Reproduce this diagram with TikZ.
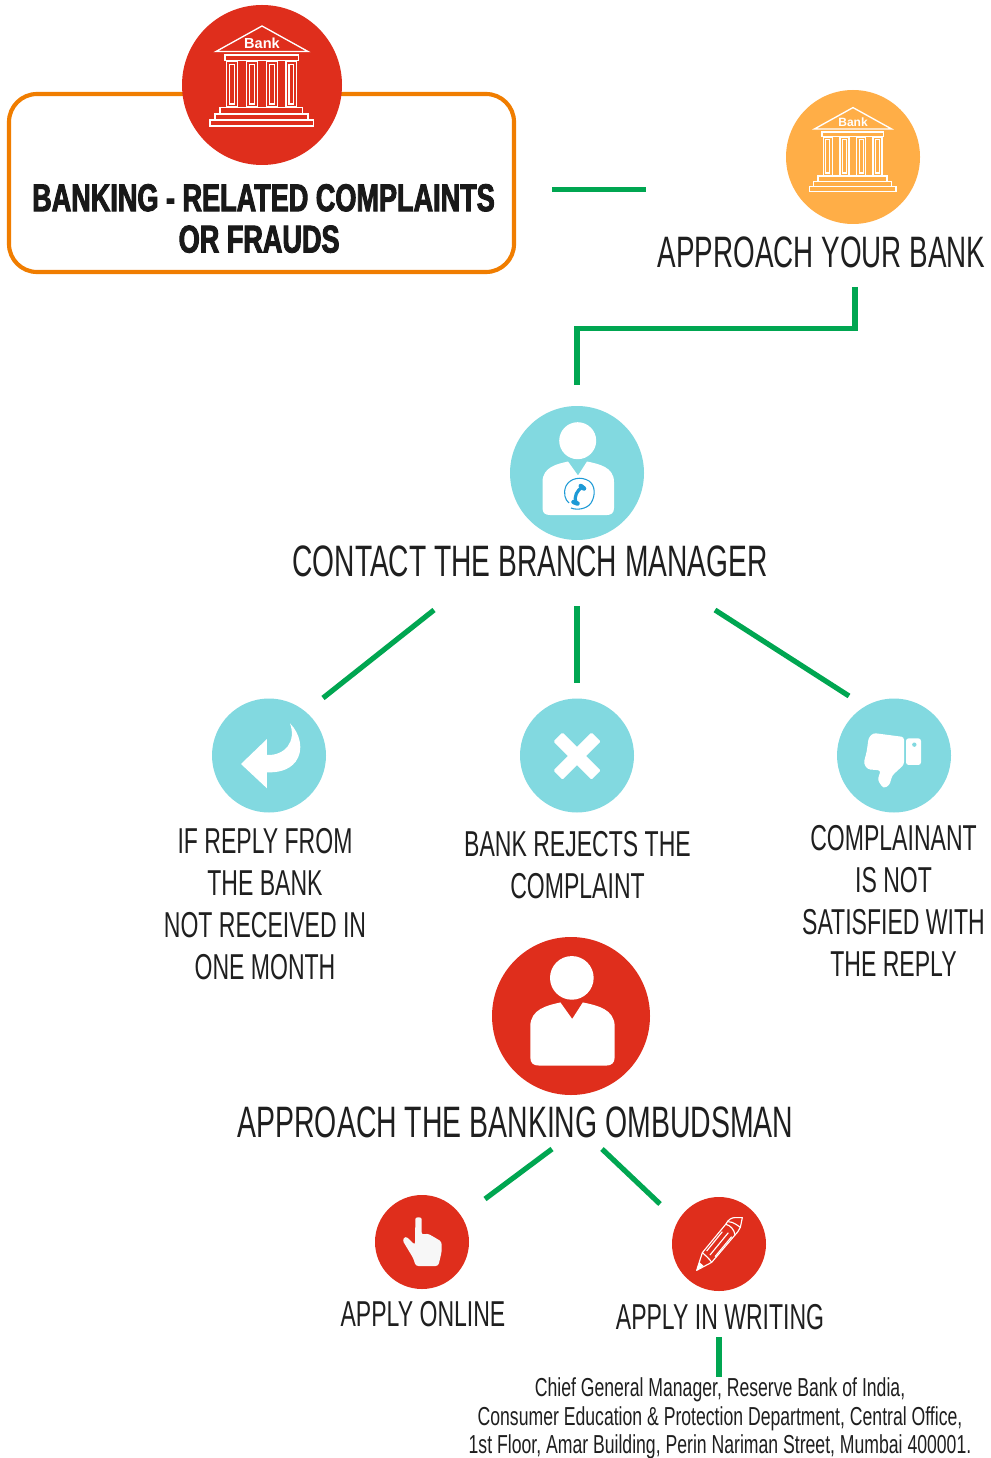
\documentclass[tikz,border=0pt]{standalone}
\usepackage{fontspec}
\setmainfont{Liberation Sans}
\newfontfamily\cond[FakeStretch=.632]{Liberation Sans}
\newfontfamily\condw[FakeStretch=.646]{Liberation Sans}
\newfontfamily\condm[FakeStretch=.64]{Liberation Sans}
\newfontfamily\conda[FakeStretch=.678]{Liberation Sans}
\newfontfamily\condb[FakeStretch=.70,FakeBold=2.4]{Liberation Sans Bold}
\definecolor{cred}{HTML}{DF2E1C}
\definecolor{corange}{HTML}{F07D00}
\definecolor{cyellow}{HTML}{FFAE47}
\definecolor{cteal}{HTML}{82D9E0}
\definecolor{cgreen}{HTML}{00A651}
\definecolor{cblue}{HTML}{1D9AD6}
\tikzset{
 disc/.style={circle,inner sep=0pt,minimum size=#1*1.5pt},
 link/.style={draw=cgreen,line width=3.9pt},
 biglabel/.style={inner sep=0pt,text=black!88,font=\cond\fontsize{33}{33}\selectfont},
 bigmid/.style={inner sep=0pt,text=black!88,font=\condm\fontsize{33}{33}\selectfont},
 bigwide/.style={inner sep=0pt,text=black!88,font=\condw\fontsize{33}{33}\selectfont},
 midlabel/.style={inner sep=0pt,text=black!88,align=center,font=\condm\fontsize{27}{31.5}\selectfont},
 addr/.style={inner sep=0pt,text=black!88,align=center,font=\conda\fontsize{19.5}{21.4}\selectfont},
 headlabel/.style={inner sep=0pt,text=black!90,align=center,font=\condb\fontsize{29}{31}\selectfont},
 iconline/.style={draw=white,line width=#1},
}
% bank icon, local coordinates relative to the circle centre
\newcommand{\bankicon}[3]{%
 \begin{scope}[shift={#1},scale=#2,iconline=1.0pt,fill=none]
  \draw (-46,-33.5) -- (0,-59) -- (46,-33.5) -- cycle;
  \draw (-37,-30) rectangle (36.5,-24.5);
  \foreach \a in {-35.5,-15.5,4.5,24}{%
   \draw (\a,-23.5) rectangle ++(10.8,45.5);
   \draw (\a+3,-20.5) rectangle ++(4.8,39.5);
  }
  \draw (-42,22.5) rectangle (40.5,29);
  \draw (-47,29) rectangle (46,35);
  \draw (-52,35) rectangle (51.5,41);
  \node[text=white,inner sep=0pt,font=\bfseries\fontsize{#3}{#3}\selectfont] at (0,-42) {Bank};
 \end{scope}}
% person icon, local coordinates relative to the circle centre
\newcommand{\personicon}[3]{%
 \begin{scope}[shift={#1},scale=#2]
  \fill[white] (0.7,-32.3) circle (18.5);
  \fill[white] (-9,-11.5) -- (1,2.5) -- (10,-11.5)
    .. controls (22,-9) and (37,-6) .. (37,9) -- (37,35)
    .. controls (37,40) and (34,42) .. (30,42) -- (-27,42)
    .. controls (-32,42) and (-34.5,40) .. (-34.5,35) -- (-34.5,9)
    .. controls (-34.5,-6) and (-20,-9) .. cycle;
  #3
 \end{scope}}
\begin{document}
\begin{tikzpicture}[x=.75pt,y=-.75pt]
\useasboundingbox (0,0) rectangle (990,1458);
\fill[white] (0,0) rectangle (990,1458);

% outlined heading box
\node[draw=corange,line width=3.1pt,rounded corners=21pt,minimum width=505*.75pt,minimum height=178*.75pt,inner sep=0pt] (box) at (261.5,183) {};
\node[headlabel] (head) at (263.5,218.5) {BANKING - RELATED COMPLAINTS\\OR FRAUDS\hspace*{6.5pt}};

% circles
\node[disc=80,fill=cred] (bankred) at (262,85) {};
\node[disc=67,fill=cyellow] (bankyel) at (853,157) {};
\node[disc=67,fill=cteal] (manager) at (577,473) {};
\node[disc=57,fill=cteal] (ret) at (269,755.5) {};
\node[disc=57,fill=cteal] (rej) at (577,755.5) {};
\node[disc=57,fill=cteal] (thumb) at (894,755.5) {};
\node[disc=79,fill=cred] (omb) at (571,1016) {};
\node[disc=47,fill=cred] (online) at (422,1242) {};
\node[disc=47,fill=cred] (write) at (719,1244) {};

% icons
\bankicon{(262,85)}{1}{10.9}
\bankicon{(853,157)}{.8375}{9}
\personicon{(577,473)}{1}{%
  \draw[cblue,line width=.8pt] (-6,35) .. controls (0,37.5) and (10,36) .. (14,30) .. controls (19,22) and (18,12) .. (12,8) .. controls (4,3) and (-7,5) .. (-11,13) .. controls (-14,20) and (-12,27) .. (-8,30);
  \draw[cblue,line width=2.4pt] (5.5,14) .. controls (0,17) and (-3.5,24) .. (-1,30);
  \draw[cblue,line width=3.4pt,line cap=round] (3.8,13) -- (7,15.5);
  \draw[cblue,line width=3.4pt,line cap=round] (-3.5,29) -- (0.5,30.5);
}
\personicon{(571,1016)}{1.18}{}

% return arrow
\begin{scope}[shift={(205,695)},scale=.3333]
 \fill[white] (108,207) -- (186,132) -- (186,180) .. controls (240,182) and (275,140) .. (255,85)
   .. controls (285,115) and (298,165) .. (272,200) .. controls (250,228) and (215,233) .. (186,232) -- (186,280) -- cycle;
\end{scope}
% cross
\begin{scope}[shift={(577,756)},rotate=45]
 \fill[white,rounded corners=1pt] (-6.5,-27) rectangle (6.5,27);
 \fill[white,rounded corners=1pt] (-27,-6.5) rectangle (27,6.5);
\end{scope}
% thumb down
\begin{scope}[shift={(830,695)},scale=.3333]
 \fill[white,rounded corners=2pt] (222,126) -- (130,114) -- (116,128) -- (110,170) -- (101,205) -- (113,223) -- (152,226)
   -- (143,255) -- (160,280) -- (178,271) -- (187,241) -- (222,209) -- cycle;
 \fill[white,rounded corners=2pt] (228,130) rectangle (273,210);
 \fill[cteal] (253,149) circle (6.5);
\end{scope}
% hand
\begin{scope}[shift={(370,1190)},scale=.3333]
 \fill[white!97!black,rounded corners=2pt] (136,95) .. controls (136,80) and (155,80) .. (155,95) -- (155,135) -- (172,130) -- (190,140) -- (215,155)
   -- (215,185) -- (205,228) -- (137,228) -- (130,205) -- (97,150) -- (107,138) -- (135,165) -- cycle;
\end{scope}
% pencil
\begin{scope}[shift={(665,1190)},scale=.3333,draw=white,line width=.85pt]
 \draw[line join=round] (95,241) -- (112,188) -- (182,103) .. controls (190,88) and (200,83) .. (208,83) -- (232,83) -- (226,112) .. controls (222,122) and (215,130) .. (210,135) -- (140,217) -- cycle;
 \draw (182,103) .. controls (195,105) and (208,118) .. (210,135);
 \draw (190,95) .. controls (205,95) and (220,108) .. (226,112);
 \draw (112,188) .. controls (120,195) and (132,205) .. (140,217);
 \draw (125,183) -- (172,125);
 \draw (135,195) -- (190,128);
 \draw (150,200) -- (200,140);
 \fill[white] (95,241) -- (103,216) -- (116,228) -- cycle;
\end{scope}

% labels
\node[biglabel] (l1) at (821.5,252.5) {APPROACH YOUR BANK};
\node[bigmid] (l2) at (530,561.5) {CONTACT THE BRANCH MANAGER};
\node[midlabel] (l3) at (265,904) {IF REPLY FROM\\THE BANK\\NOT RECEIVED IN\\ONE MONTH};
\node[midlabel] (l4) at (577.5,865) {BANK REJECTS THE\\COMPLAINT};
\node[midlabel] (l5) at (893.5,901) {COMPLAINANT\\IS NOT\\SATISFIED WITH\\THE REPLY};
\node[bigwide] (l6) at (515.5,1122.5) {APPROACH THE BANKING OMBUDSMAN};
\node[midlabel] (l7) at (423,1314) {APPLY ONLINE};
\node[midlabel] (l8) at (720,1317) {APPLY IN WRITING};
\node[addr] (l9) at (720,1418.5) {Chief General Manager, Reserve Bank of India,\\Consumer Education \& Protection Department, Central Office,\\1st Floor, Amar Building, Perin Nariman Street, Mumbai 400001.};

% connector ends
\coordinate (a1) at (552,189.5); \coordinate (a2) at (646,189.5);
\coordinate (b1) at (855,287); \coordinate (b2) at (855,328.5); \coordinate (b3) at (577,328.5); \coordinate (b4) at (577,385);
\coordinate (c1) at (434,610); \coordinate (c2) at (323,698);
\coordinate (d1) at (577,606); \coordinate (d2) at (577,683);
\coordinate (e1) at (715,610); \coordinate (e2) at (849,696);
\coordinate (f1) at (552,1149); \coordinate (f2) at (485,1199);
\coordinate (g1) at (602,1149); \coordinate (g2) at (660,1204);
\coordinate (h1) at (719,1337); \coordinate (h2) at (719,1377);
\draw[link] (a1) -- (a2);
\draw[link] (b1) -- (b2) -- (b3) -- (b4);
\draw[link] (c1) -- (c2);
\draw[link] (d1) -- (d2);
\draw[link] (e1) -- (e2);
\draw[link] (f1) -- (f2);
\draw[link] (g1) -- (g2);
\draw[link] (h1) -- (h2);
\end{tikzpicture}
\end{document}
